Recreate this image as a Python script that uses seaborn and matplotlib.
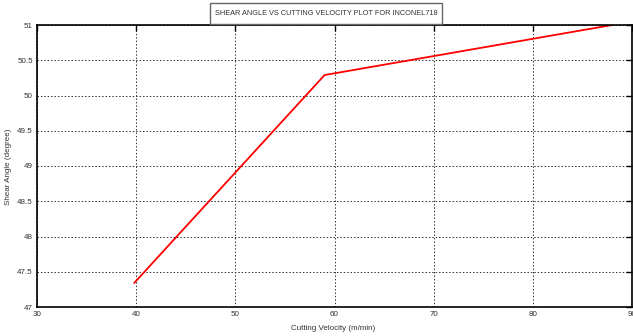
import matplotlib
matplotlib.use("Agg")
import matplotlib.pyplot as plt
import matplotlib.patches as mpatches
import seaborn as sns
import pandas as pd

cutting_velocity = [39.8, 59.0, 88.0]
shear_angle = [47.34, 50.29, 51.0]
x_ticks = [30, 40, 50, 60, 70, 80, 90]
y_ticks = [47, 47.5, 48, 48.5, 49, 49.5, 50, 50.5, 51]
y_tick_labels = ["47", "47.5", "48", "48.5", "49", "49.5", "50", "50.5", "51"]

sns.set_style("white")
plt.rcParams['font.family'] = ['Liberation Sans', 'DejaVu Sans']

df = pd.DataFrame({"v": cutting_velocity, "a": shear_angle})

W, H = 633, 336
fig = plt.figure(figsize=(W/100, H/100), dpi=100)
ax = fig.add_axes([37/W, 1-307/H, (632-37)/W, (307-25)/H])
sns.lineplot(data=df, x="v", y="a", ax=ax, color="red", linewidth=1.3)

ax.set_xlim(30, 90)
ax.set_ylim(47, 51)
ax.set_xticks(x_ticks)
ax.set_yticks(y_ticks)
ax.set_yticklabels(y_tick_labels)
ax.tick_params(direction="in", length=4, width=1, top=True, right=True,
               labelsize=5.8, colors="black", labelcolor="#333333", pad=3)
ax.grid(True, linestyle=(0, (1.5, 2)), color="#333333", linewidth=0.7)
for s in ax.spines.values():
    s.set_color("black")
    s.set_linewidth(1.2)
ax.set_xlabel("Cutting Velocity (m/min)", fontsize=5.8, color="#333333")
ax.set_ylabel("Shear Angle (degree)", fontsize=5.8, color="#333333")
ax.xaxis.set_label_coords((333-37)/(632-37), -(325-307)/(307-25))
ax.yaxis.set_label_coords(-(37-12)/(632-37), 0.5 + (166-167)/(307-25))

# title box
fig.add_artist(mpatches.Rectangle((210/W, 1-24/H), (442-210)/W, 21/H,
                                  transform=fig.transFigure, facecolor="white",
                                  edgecolor="#666666", linewidth=1))
fig.text(326/W, 1-13.5/H, "SHEAR ANGLE VS CUTTING VELOCITY PLOT FOR INCONEL718",
         ha="center", va="center", fontsize=5.3, color="#333333")

fig.savefig("out.png", dpi=100)
